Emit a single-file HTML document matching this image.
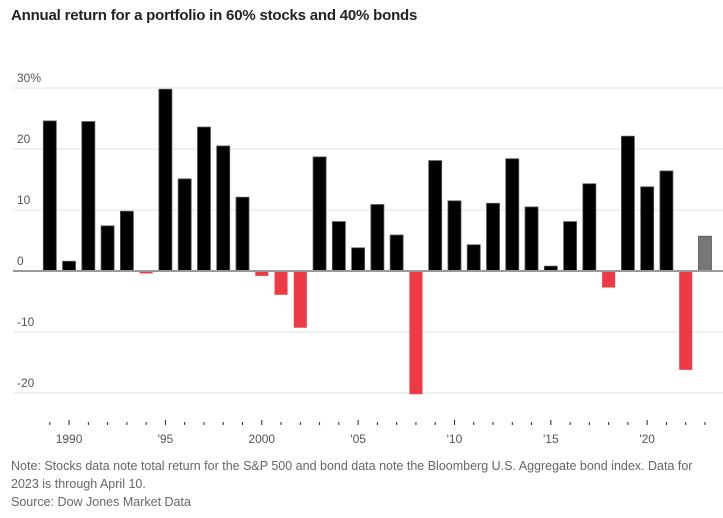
<!DOCTYPE html>
<html><head><meta charset="utf-8"><style>
body{margin:0;background:#fff;font-family:"Liberation Sans",sans-serif;}
#wrap{position:relative;width:723px;height:518px;overflow:hidden;}
.title{position:absolute;left:11px;top:7px;font-size:15px;font-weight:bold;color:#222;letter-spacing:-0.2px;}
.note{position:absolute;left:11px;top:457px;font-size:12.5px;color:#666;line-height:18px;width:710px;}
</style></head><body>
<div id="wrap">
<div class="title">Annual return for a portfolio in 60% stocks and 40% bonds</div>
<svg id="chart" width="723" height="518" style="position:absolute;left:0;top:0"></svg>
<div class="note">Note: Stocks data note total return for the S&amp;P 500 and bond data note the Bloomberg U.S. Aggregate bond index. Data for 2023 is through April 10.<br>Source: Dow Jones Market Data</div>
</div>
<script>
const years=[1989,1990,1991,1992,1993,1994,1995,1996,1997,1998,1999,2000,2001,2002,2003,2004,2005,2006,2007,2008,2009,2010,2011,2012,2013,2014,2015,2016,2017,2018,2019,2020,2021,2022,2023];
const returns=[24.6,1.6,24.5,7.4,9.8,-0.4,29.8,15.1,23.6,20.5,12.1,-0.8,-3.9,-9.3,18.7,8.1,3.8,10.9,5.9,-20.2,18.1,11.5,4.3,11.1,18.4,10.5,0.8,8.1,14.3,-2.7,22.1,13.8,16.4,-16.2,5.7];
const yTicks=[30,20,10,0,-10,-20];
const yTickLabels=["30%","20","10","0","-10","-20"];
const xLabelYears=[1990,1995,2000,2005,2010,2015,2020];
const xLabels=["1990","'95","2000","'05","'10","'15","'20"];
const NS="http://www.w3.org/2000/svg";
const svg=document.getElementById('chart');
const y=v=>271-v*6.1;
const x=yr=>49.8+(yr-1989)*19.27;
function mk(t,a){const e=document.createElementNS(NS,t);for(const k in a)e.setAttribute(k,a[k]);svg.appendChild(e);return e;}
yTicks.forEach((t,i)=>{
  if(t!==0){const l=mk('line',{x1:13,x2:723,y1:y(t),y2:y(t),stroke:'#ececec','stroke-width':1.5});
  
  }
  const tx=mk('text',{x:17,y:y(t)-6,'font-size':12,fill:'#555'});
  tx.textContent=yTickLabels[i];
  
  
});
years.forEach((yr,i)=>{
  const v=returns[i];
  const col=yr===2023?'#777':(v<0?'#ee3a45':'#000');
  const r=mk('rect',{x:x(yr)-6.5,y:Math.min(y(v),y(0)),width:13,height:Math.abs(y(v)-y(0)),fill:col,stroke:v<0?'none':'#555','stroke-width':0.8});
  
  
});
const base=mk('line',{x1:13,x2:723,y1:271,y2:271,stroke:'#999','stroke-width':2});


years.forEach(yr=>{
  const major=yr%5===0;
  const t=mk('line',{x1:x(yr),x2:x(yr),y1:major?420:422,y2:425,stroke:'#222','stroke-width':1});
  
  
});
xLabelYears.forEach((yr,i)=>{
  const t=mk('text',{x:x(yr),y:443,'font-size':12,fill:'#555','text-anchor':'middle'});
  t.textContent=xLabels[i];
  
  
});
</script>
</body></html>
